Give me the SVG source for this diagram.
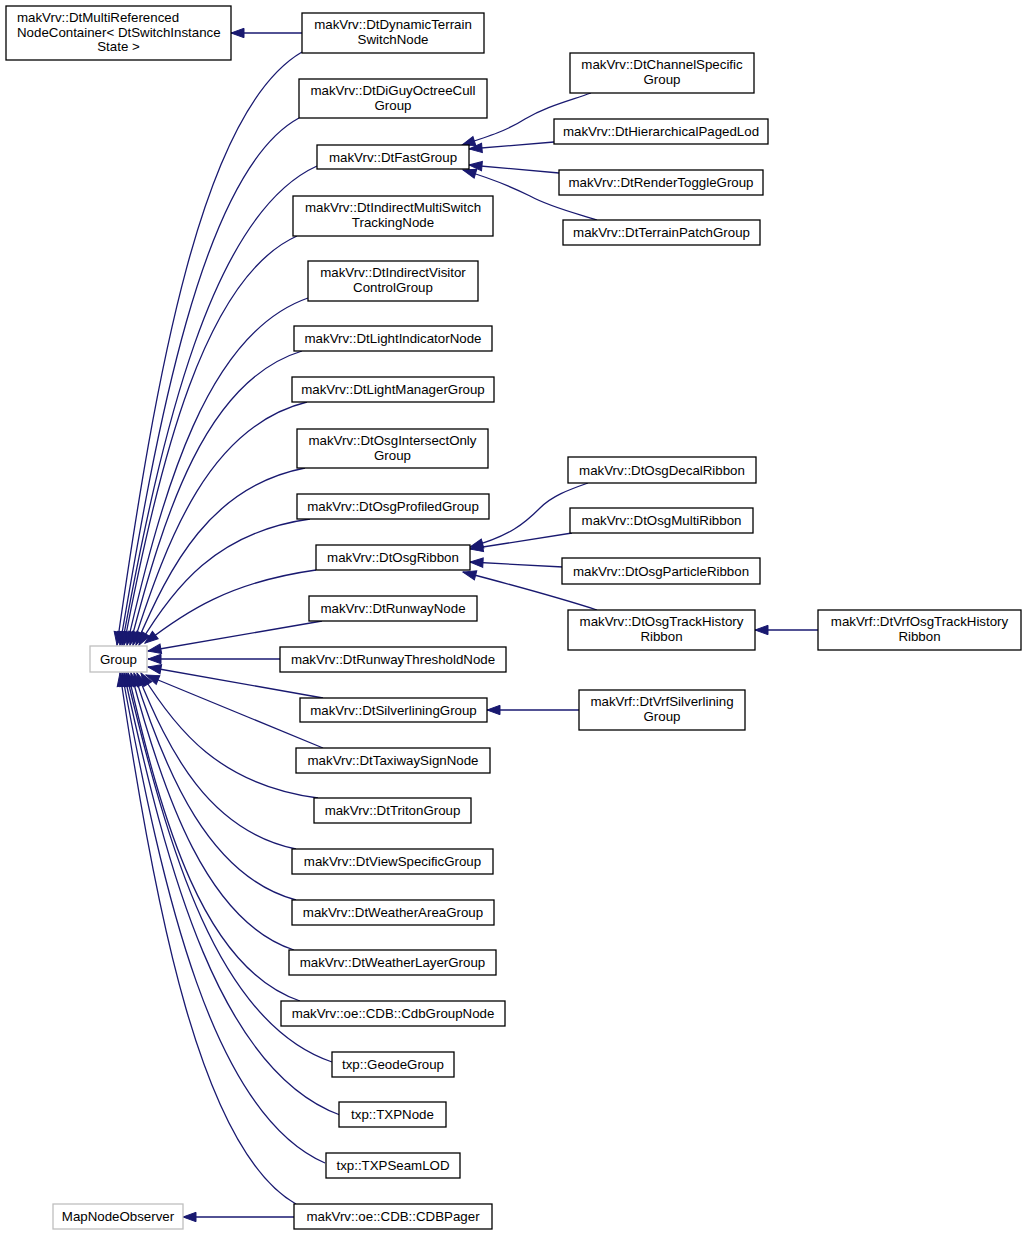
<svg xmlns="http://www.w3.org/2000/svg" width="1027" height="1236" viewBox="0 0 1027 1236">
<style>
.n rect{fill:#fff;stroke:#000;stroke-width:1.3}
.g rect{fill:#fff;stroke:#bfbfbf;stroke-width:1.3}
text{font-family:"Liberation Sans",Arial,sans-serif;font-size:13.3px;fill:#000;text-anchor:middle}
.e path{fill:none;stroke:#191970;stroke-width:1.3;marker-end:url(#ah)}
</style>
<defs>
<marker id="ah" markerUnits="userSpaceOnUse" markerWidth="14" markerHeight="10" refX="13" refY="4.7" orient="auto" overflow="visible">
<path d="M0,0 L13,4.7 L0,9.4 Z" fill="#191970" stroke="#191970" stroke-width="1"/>
</marker>
</defs>
<rect width="1027" height="1236" fill="#fff"/>
<g class="e" id="edges">
<path d="M302,33 L231,33"/>
<path d="M294,1217 L183,1217"/>
<path d="M579,710 L487,710"/>
<path d="M818,630 L755,630"/>
<path d="M591,93 C565,102 545,107 525,119 C508,130 490,136 462,145"/>
<path d="M554,142 L469,149"/>
<path d="M559,173 L469,165"/>
<path d="M597,220 C575,213 550,207 530,196 C510,186 490,178 463,170"/>
<path d="M588,483 C568,490 552,496 540,508 C525,523 510,536 470,547"/>
<path d="M572,533 L470,549"/>
<path d="M563,567 L470,562"/>
<path d="M597,610 C560,598 520,587 463,572"/>
<path d="M302,52 C202,110 156,372 117,645"/>
<path d="M299,118 C201,171 156,434 120,645"/>
<path d="M317,166 C211,214 161,434 122,645"/>
<path d="M297,236 C205,277 159,460 124,645"/>
<path d="M308,298 C207,333 163,489 127,645"/>
<path d="M302,351 C206,380 164,513 130,645"/>
<path d="M307,402 C210,426 168,536 133,645"/>
<path d="M305,468 C211,486 170,565 136,645"/>
<path d="M310,519 C216,532 173,588 139,645"/>
<path d="M316,570 C230,582 185,612 145,643"/>
<path d="M322,621 L148,651"/>
<path d="M280,659 L148,659"/>
<path d="M323,698 L148,667"/>
<path d="M323,748 L146,675"/>
<path d="M318,798 C220,785 176,730 141,673"/>
<path d="M296,849 C209,831 169,752 137,673"/>
<path d="M296,900 C210,877 166,775 134,673"/>
<path d="M294,950 C208,922 164,798 131,673"/>
<path d="M300,1001 C203,968 162,821 128,673"/>
<path d="M332,1062 C217,1023 168,848 126,673"/>
<path d="M340,1115 C220,1071 167,872 124,673"/>
<path d="M325,1163 C212,1114 163,893 122,673"/>
<path d="M296,1204 C202,1151 155,912 120,673"/>
</g>
<g id="n_multiref" class="n"><rect x="6" y="6" width="225" height="54"/><text x="17" y="22" style="text-anchor:start">makVrv::DtMultiReferenced</text><text x="17" y="36.7" style="text-anchor:start">NodeContainer&lt; DtSwitchInstance</text><text x="118.5" y="51.4">State &gt;</text></g>
<g id="n_dynterrain" class="n"><rect x="302" y="13" width="182" height="40"/><text x="393" y="29">makVrv::DtDynamicTerrain</text><text x="393" y="44">SwitchNode</text></g>
<g id="n_diguy" class="n"><rect x="299" y="79" width="188" height="39"/><text x="393" y="94.5">makVrv::DtDiGuyOctreeCull</text><text x="393" y="109.5">Group</text></g>
<g id="n_fastgroup" class="n"><rect x="317" y="145" width="152" height="24"/><text x="393" y="161.8">makVrv::DtFastGroup</text></g>
<g id="n_indmulti" class="n"><rect x="293" y="196" width="200" height="40"/><text x="393" y="212">makVrv::DtIndirectMultiSwitch</text><text x="393" y="227">TrackingNode</text></g>
<g id="n_indvisitor" class="n"><rect x="308" y="261" width="170" height="40"/><text x="393" y="277">makVrv::DtIndirectVisitor</text><text x="393" y="292">ControlGroup</text></g>
<g id="n_lightind" class="n"><rect x="294" y="326" width="198" height="25"/><text x="393" y="343.3">makVrv::DtLightIndicatorNode</text></g>
<g id="n_lightmgr" class="n"><rect x="292" y="377" width="202" height="25"/><text x="393" y="394.3">makVrv::DtLightManagerGroup</text></g>
<g id="n_osginter" class="n"><rect x="297" y="429" width="191" height="39"/><text x="392.5" y="444.5">makVrv::DtOsgIntersectOnly</text><text x="392.5" y="459.5">Group</text></g>
<g id="n_osgprof" class="n"><rect x="297" y="494" width="192" height="25"/><text x="393" y="511.3">makVrv::DtOsgProfiledGroup</text></g>
<g id="n_osgribbon" class="n"><rect x="316" y="545" width="154" height="25"/><text x="393" y="562.3">makVrv::DtOsgRibbon</text></g>
<g id="n_runway" class="n"><rect x="309" y="596" width="168" height="25"/><text x="393" y="613.3">makVrv::DtRunwayNode</text></g>
<g id="n_runwayth" class="n"><rect x="280" y="647" width="226" height="25"/><text x="393" y="664.3">makVrv::DtRunwayThresholdNode</text></g>
<g id="n_silver" class="n"><rect x="300" y="698" width="187" height="24"/><text x="393.5" y="714.8">makVrv::DtSilverliningGroup</text></g>
<g id="n_taxiway" class="n"><rect x="296" y="748" width="194" height="25"/><text x="393" y="765.3">makVrv::DtTaxiwaySignNode</text></g>
<g id="n_triton" class="n"><rect x="314" y="798" width="157" height="25"/><text x="392.5" y="815.3">makVrv::DtTritonGroup</text></g>
<g id="n_viewspec" class="n"><rect x="292" y="849" width="201" height="25"/><text x="392.5" y="866.3">makVrv::DtViewSpecificGroup</text></g>
<g id="n_weatherarea" class="n"><rect x="292" y="900" width="202" height="25"/><text x="393" y="917.3">makVrv::DtWeatherAreaGroup</text></g>
<g id="n_weatherlayer" class="n"><rect x="289" y="950" width="207" height="25"/><text x="392.5" y="967.3">makVrv::DtWeatherLayerGroup</text></g>
<g id="n_cdbgroup" class="n"><rect x="281" y="1001" width="224" height="25"/><text x="393" y="1018.3">makVrv::oe::CDB::CdbGroupNode</text></g>
<g id="n_geode" class="n"><rect x="332" y="1052" width="122" height="25"/><text x="393" y="1069.3">txp::GeodeGroup</text></g>
<g id="n_txpnode" class="n"><rect x="339" y="1102" width="107" height="25"/><text x="392.5" y="1119.3">txp::TXPNode</text></g>
<g id="n_txpseam" class="n"><rect x="326" y="1153" width="134" height="25"/><text x="393" y="1170.3">txp::TXPSeamLOD</text></g>
<g id="n_cdbpager" class="n"><rect x="294" y="1204" width="198" height="25"/><text x="393" y="1221.3">makVrv::oe::CDB::CDBPager</text></g>
<g id="n_group" class="g"><rect x="90" y="646" width="57" height="26"/><text x="118.5" y="663.8">Group</text></g>
<g id="n_mapnode" class="g"><rect x="53" y="1204" width="130" height="25"/><text x="118" y="1221.3">MapNodeObserver</text></g>
<g id="n_channel" class="n"><rect x="570" y="53" width="184" height="40"/><text x="662" y="69">makVrv::DtChannelSpecific</text><text x="662" y="84">Group</text></g>
<g id="n_hier" class="n"><rect x="554" y="119" width="214" height="25"/><text x="661" y="136.3">makVrv::DtHierarchicalPagedLod</text></g>
<g id="n_render" class="n"><rect x="559" y="170" width="204" height="25"/><text x="661" y="187.3">makVrv::DtRenderToggleGroup</text></g>
<g id="n_terrain" class="n"><rect x="563" y="220" width="197" height="25"/><text x="661.5" y="237.3">makVrv::DtTerrainPatchGroup</text></g>
<g id="n_decal" class="n"><rect x="568" y="457" width="188" height="26"/><text x="662" y="474.8">makVrv::DtOsgDecalRibbon</text></g>
<g id="n_multiribbon" class="n"><rect x="570" y="508" width="183" height="25"/><text x="661.5" y="525.3">makVrv::DtOsgMultiRibbon</text></g>
<g id="n_particle" class="n"><rect x="562" y="558" width="198" height="26"/><text x="661" y="575.8">makVrv::DtOsgParticleRibbon</text></g>
<g id="n_trackhist" class="n"><rect x="568" y="610" width="187" height="40"/><text x="661.5" y="626">makVrv::DtOsgTrackHistory</text><text x="661.5" y="641">Ribbon</text></g>
<g id="n_vrftrack" class="n"><rect x="818" y="610" width="203" height="40"/><text x="919.5" y="626">makVrf::DtVrfOsgTrackHistory</text><text x="919.5" y="641">Ribbon</text></g>
<g id="n_vrfsilver" class="n"><rect x="579" y="690" width="166" height="40"/><text x="662" y="706">makVrf::DtVrfSilverlining</text><text x="662" y="721">Group</text></g>
</svg>
